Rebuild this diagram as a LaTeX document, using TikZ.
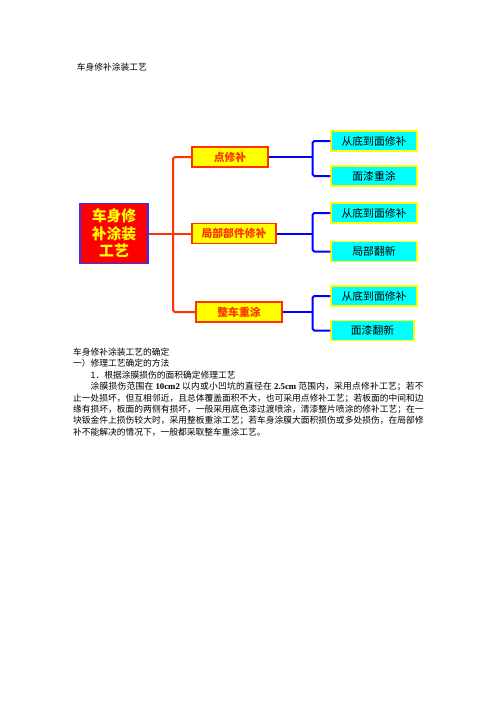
\documentclass[tikz,border=0pt]{standalone}
\usepackage{fontspec}
\setmainfont{Noto Sans CJK SC}
\newfontfamily\latinfont{Liberation Serif}
\usepackage{tikz}
\XeTeXlinebreaklocale "zh"
\XeTeXlinebreakskip=0pt plus 1pt
\setlength{\parindent}{0pt}
\definecolor{rootred}{HTML}{FF0000}
\definecolor{rootblue}{HTML}{3333FF}
\definecolor{branchred}{HTML}{FF3300}
\definecolor{leafcyan}{HTML}{00FFFF}
\definecolor{lineblue}{HTML}{0000FF}
\definecolor{boxyellow}{HTML}{FFFF00}

\begin{document}
\begin{tikzpicture}[x=1.2pt, y=-1.2pt]
\tikzstyle{branch} = [rectangle, minimum height=24pt, inner sep=0pt, text centered, draw=branchred, fill=boxyellow, line width=1.5pt, text=branchred, font=\fontsize{13}{15}\selectfont\bfseries]
\tikzstyle{leaf} = [rectangle, minimum width=103.2pt, minimum height=24pt, inner sep=0pt, text centered, draw=boxyellow, fill=leafcyan, line width=1.3pt, font=\fontsize{13}{15}\selectfont]
\tikzstyle{redline} = [line width=2.4pt, draw=branchred, rounded corners=2pt]
\tikzstyle{blueline} = [line width=2.4pt, draw=lineblue, rounded corners=2pt]

\useasboundingbox (0,0) rectangle (496,702);
\fill[white] (0,0) rectangle (496,702);

\node (title) [anchor=base west, font=\fontsize{10.5}{13.7}\selectfont] at (74,70.3) {车身修补涂装工艺};

\node (root) [rectangle, minimum width=81.6pt, minimum height=72pt, inner sep=0pt, draw=rootblue, fill=rootred, line width=1.5pt, text=boxyellow, align=center, font=\fontsize{17.8}{21}\selectfont\bfseries] at (114,233.5) {车身修\\补涂装\\工艺};

\node (spot) [branch, minimum width=91.2pt] at (230,157) {点修补};
\node (part) [branch, minimum width=100.8pt] at (234,233.5) {局部部件修补};
\node (whole) [branch, minimum width=103.2pt] at (239,312) {整车重涂};

\node (spotA) [leaf] at (374,141) {从底到面修补};
\node (spotB) [leaf] at (374,176) {面漆重涂};
\node (partA) [leaf] at (374,213) {从底到面修补};
\node (partB) [leaf] at (374,251.5) {局部翻新};
\node (wholeA) [leaf] at (374,296) {从底到面修补};
\node (wholeB) [leaf, minimum width=99.6pt] at (372.5,330.5) {面漆翻新};

\coordinate (trunk) at (173,0);
\coordinate (fork) at (312.5,0);

% Draw lines
\draw[redline] (spot.west) -| (trunk |- root.east) |- (whole.west);
\draw[redline] (root.east) -- (part.west);
\foreach \p/\a/\b in {spot/spotA/spotB, part/partA/partB, whole/wholeA/wholeB} {
    \draw[blueline] (\p.east) -- (fork |- \p.east);
    \draw[blueline] (\a.west) -| (fork |- \p.east) |- (\b.west);
}

\node (body) [anchor=north west, text width=420.5pt, align=justify, inner sep=0pt, font=\fontsize{10.5}{13.7}\selectfont] at (73,347.8) {%
车身修补涂装工艺的确定\par
一）修理工艺确定的方法\par
\hspace*{2em}1．根据涂膜损伤的面积确定修理工艺\par
\hspace*{2em}涂膜损伤范围在 {\latinfont\bfseries 10cm2} 以内或小凹坑的直径在 {\latinfont\bfseries 2.5cm} 范围内，采用点修补工艺；若不\linebreak
止一处损坏，但互相邻近，且总体覆盖面积不大，也可采用点修补工艺；若板面的中间和边\linebreak
缘有损坏，板面的两侧有损坏，一般采用底色漆过渡喷涂，清漆整片喷涂的修补工艺；在一\linebreak
块钣金件上损伤较大时，采用整板重涂工艺；若车身涂膜大面积损伤或多处损伤，在局部修\linebreak
补不能解决的情况下，一般都采取整车重涂工艺。};

\end{tikzpicture}
\end{document}
